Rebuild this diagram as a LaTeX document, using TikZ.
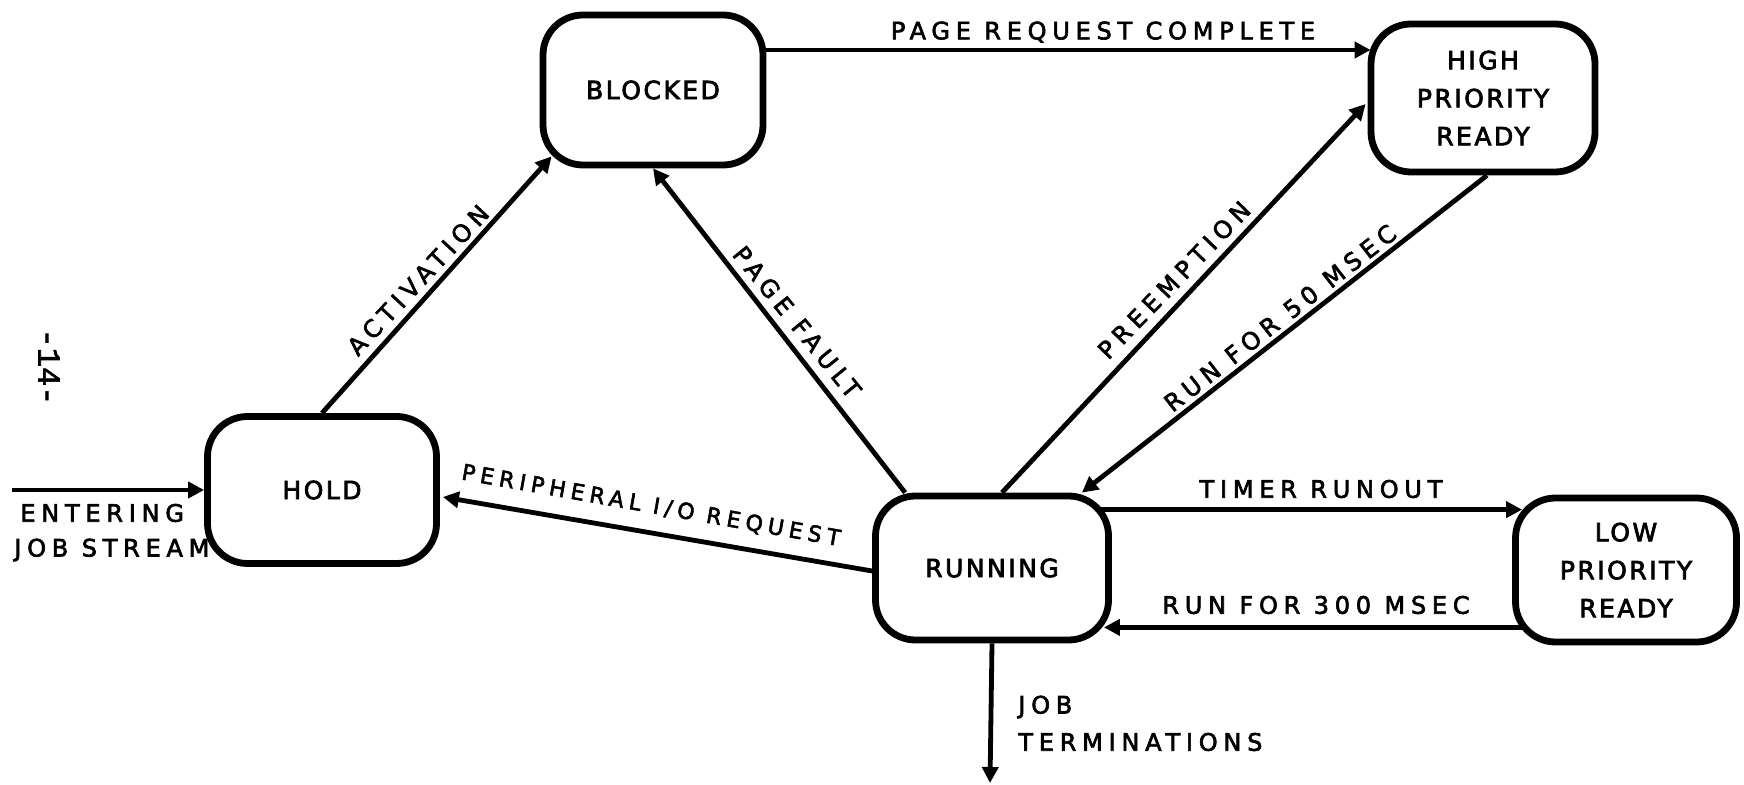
\documentclass[tikz,border=0pt]{standalone}
\usepackage{fontspec}
\setmainfont{DejaVu Sans}
\newfontfamily\statefamily{DejaVu Sans}[LetterSpace=10, FakeBold=3]
\newfontfamily\lblfamily{DejaVu Sans}[LetterSpace=24, FakeBold=2.6]
\newfontfamily\typewriter{Liberation Mono}[FakeBold=2]
\usetikzlibrary{arrows.meta,calc}
\newcommand\statefont{\statefamily\fontsize{12.5}{19}\selectfont}
\newcommand\labelfont{\lblfamily\fontsize{12}{13}\selectfont}

\begin{document}
\begin{tikzpicture}[x=0.5pt,y=-0.5pt,
  state/.style={draw, line width=3.4pt, rounded corners=20pt, align=center,
                font=\statefont, inner sep=0pt},
  flow/.style={line width=2.4pt, -{Triangle[length=8pt,width=8pt]}},
  lbl/.style={font=\labelfont, inner sep=0pt}]
\useasboundingbox (0,0) rectangle (1744,785);

% process states
\node[state, minimum width=110pt,   minimum height=75pt]   (blocked) at (653,90)   {BLOCKED};
\node[state, minimum width=112pt,   minimum height=74pt]   (high)    at (1483,98)  {HIGH\\PRIORITY\\READY};
\node[state, minimum width=114.5pt, minimum height=73.5pt] (hold)    at (322,490)  {HOLD};
\node[state, minimum width=116.5pt, minimum height=72pt]   (running) at (992,568)  {RUNNING};
\node[state, minimum width=110.5pt, minimum height=72pt]   (low)     at (1626,570) {LOW\\PRIORITY\\READY};

% free ends
\coordinate (entry) at (12,490);
\coordinate (exit)  at (990,783);

% transitions
\draw[flow] (entry) -- (hold.west);
\draw[flow] (hold.north) -- ($(blocked.south west)+(12,-12)$);
\draw[flow] ($(running.north west)+(33,0)$) -- (blocked.south);
\draw[flow] ($(blocked.east)+(0,-40)$) -- ($(high.west)+(3,-48)$);
\draw[flow] ($(running.north)+(10,0)$) -- ($(high.west)+(-2,6)$);
\draw[flow] ($(high.south)+(4,0)$) -- ($(running.north east)+(-30,0)$);
\draw[flow] ($(running.north east)+(-14,17)$) -- ($(low.north west)+(10,15)$);
\draw[flow] ($(low.south west)+(10,-18)$) -- ($(running.south east)+(-8,-16)$);
\draw[flow] ($(running.west)+(0,3)$) -- ($(hold.east)+(3,7)$);
\draw[flow] (running.south) -- (exit);

% transition labels
\node[lbl] (lpage) at (1103,32) {PAGE REQUEST COMPLETE};
\node[lbl, rotate=47] (lact) at (418,280) {ACTIVATION};
\node[lbl, rotate=-51] (lfault) at (797,322) {PAGE FAULT};
\node[lbl, rotate=46] (lpre) at (1174,280) {PREEMPTION};
\node[lbl, rotate=38] (lrun50) at (1280,318) {RUN FOR 50 MSEC};
\node[lbl] (ltimer) at (1321,489) {TIMER RUNOUT};
\node[lbl] (lrun300) at (1316,605) {RUN FOR 300 MSEC};
\node[lbl, rotate=-10, font=\lblfamily\fontsize{11}{12}\selectfont] (lperiph) at (651,506) {PERIPHERAL I/O REQUEST};
\node[lbl, anchor=west] (ljob) at (1018,707) {JOB};
\node[lbl, anchor=west] (lterm) at (1018,742) {TERMINATIONS};
\node[lbl, anchor=west] (lenter) at (20,513) {ENTERING};
\node[lbl, anchor=west] (lstream) at (14,550) {JOB STREAM};

% page number
\node[font=\typewriter\fontsize{16}{16}\selectfont, rotate=-90, inner sep=0pt] (pageno) at (49,367) {-14-};
\end{tikzpicture}
\end{document}
